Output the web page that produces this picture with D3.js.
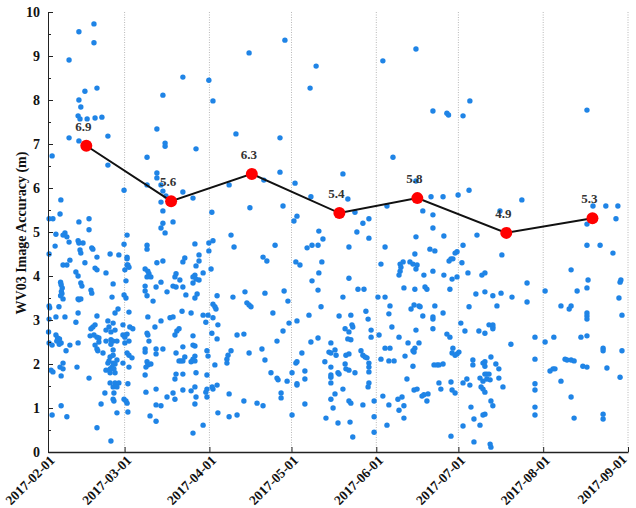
<!DOCTYPE html>
<head>
<meta charset="utf-8">
<script src="https://d3js.org/d3.v7.min.js"></script>
<style>
    body { margin: 0; background: #fff; }
    text { font-family: "Liberation Serif", "Times New Roman", serif; font-weight: bold; fill: #111; }
    .axis path, .axis line { stroke: #222; }
    .axis text { font-size: 14px; }
    .xaxis text { font-size: 13.5px; }
    .grid { stroke: #b8b8b8; stroke-width: 1; stroke-dasharray: 1,1.5; }
    .dot { fill: #1f84e6; }
    .mean-line { fill: none; stroke: #111; stroke-width: 2; }
    .mean-dot { fill: #ff0000; }
    .mean-label { font-size: 13px; fill: #333; }
</style>
</head>
<body>
<svg width="636" height="508"></svg>
<script>
// observations, [days since 2017-02-01, accuracy m], one list per month
var febObs = [[16.8,9.73],[11.3,9.55],[16.8,9.30],[7.7,8.91],[17.9,8.27],[13.5,8.2],[11.3,8.0],[12,7.84],[11,7.64],[11.7,7.57],[14.3,7.57],[17.2,7.59],[19.7,7.61],[21.9,7.18],[7.7,7.14],[11.3,7.07],[1.5,6.73],[21.9,6.52],[4.7,5.73],[4.4,5.41],[0.4,5.3],[1.8,5.3],[11.3,5.23],[15,5.3],[15,5.05],[2.9,4.95],[6.2,4.98],[5.5,4.93],[6.9,4.89],[2.6,4.68],[7.7,4.77],[11,4.8],[11.3,4.75],[12.8,4.75],[16,4.64],
  [0.4,4.5],[11.7,4.59],[12,4.52],[16.4,4.61],[17.9,4.43],[22.7,4.5],[25.9,4.48],[5.5,4.25],[6.9,4.25],[8,4.36],[13.5,4.3],[17.2,4.18],[17.9,4.14],[10.2,4.09],[11,4.0],[21.2,4.07],
  [4.6,3.86],[4.8,3.8],[5.2,3.73],[4.9,3.65],[5.1,3.6],[4.6,3.55],[5.5,3.48],[12,3.84],[12.4,3.77],[15.7,3.68],[16,3.61],[23.8,3.82],[11,3.48],[11.3,3.46],[12,3.48],[23.4,3.52],[4,3.3],[0.4,3.32],[0.6,3.28],[11,3.16],[25.6,3.25],[24.5,3.16],[6.2,3.07],[2.9,3.07],[0.4,3.02],[10.2,2.95],[17.9,3.09],[21.9,2.98],[23.8,2.93],[16.4,2.84],[17.2,2.89],[15.7,2.8],[22.3,2.84],[21.2,2.77],[23,2.73],[24.5,2.77],[0.2,2.73],
  [2.9,2.66],[3.5,2.59],[4.2,2.57],[3.2,2.52],[4.8,2.48],[4.1,2.45],[0.4,2.48],[1.5,2.43],[8,2.43],[11,2.48],[15.4,2.64],[16.8,2.66],[17.9,2.61],[18.6,2.59],[18.6,2.5],[21.2,2.52],[23,2.55],[23.8,2.52],[25.2,2.52],[23,2.45],[23.8,2.32],[17.2,2.43],[17.9,2.34],[18.2,2.3],[6.6,2.3],[20.1,2.25],[22.7,2.16],[23.8,2.2],[22.3,2.07],[5.5,2.02],[4.4,1.93],[5.5,1.89],[10.6,1.93],[1.1,1.86],[1.8,1.82],[21.9,2.02],[23.8,2.02],[24.5,2.0],[23.4,1.93],[21.2,1.86],[22.7,1.89],[24.1,1.89],[22.7,1.8],[24.5,1.8],[25.2,2.09],[4.8,1.73],[15,1.68],[22.7,1.57],[24.5,1.57],[25.9,1.57],[23.8,1.48],[25.2,1.48],[20.8,1.34],[24.1,1.34],[23.8,1.2],[24.1,1.16],[19.4,1.09],[4.8,1.05],[1.5,0.84],[6.9,0.8],[25.2,0.89],[17.9,0.55],[23,0.25],
  [27.8,4.72],[27.4,2.89],[27.4,2.66],[27.4,2.02],[27.8,1.2],[27.8,5.95],[27.8,3.57]];
var marObs = [[28.9,4.43],[28.9,4.39],[28.9,4.25],[29.2,4.25],[28.1,4.14],[29.6,4.2],[28.5,3.89],[28.5,3.5],[29.6,3.18],[29.9,2.84],[31,2.8],[28.9,2.68],[28.1,2.61],[28.1,2.48],[29.6,2.52],[28.9,2.25],[29.6,2.2],[30.7,2.14],[29.6,1.93],[29.2,1.55],[28.5,1.16],[28.9,1.11],[29.2,0.91],[28.9,4.93],
  [49.3,8.52],[58.8,8.45],[42,8.11],[39.8,7.34],[42.8,7.02],[42.8,6.95],[54.1,6.89],[36.2,6.7],[39.8,6.34],[39.8,6.23],[36.2,6.07],[41.3,6.07],[42,5.93],[43.1,5.82],[41.3,5.68],[42,5.48],[49.3,5.91],[53,5.77],[42,5.2],[41.3,5.09],[42.8,4.98],[45.7,5.23],[36.2,4.7],[53.7,4.73],[58.8,4.75],[36.2,4.61],[58.8,4.57],[39.8,4.3],[42,4.34],[49.3,4.32],[50,4.41],[55.2,4.48],[55.2,4.34],[54.1,4.23],[56.7,4.07],[35.5,4.16],[36.5,4.11],[36.9,4.05],[36.2,3.98],[37.6,3.98],[46.8,4.05],[46.4,3.98],[53.7,4.02],[53,3.98],[54.1,3.93],[55.2,3.91],[53,3.84],[48.2,3.91],[41.3,3.86],[35.5,3.77],[35.5,3.66],[36.2,3.55],[39.5,3.75],[45.7,3.77],[46.8,3.75],[49.3,3.75],[43.5,3.64],[50.4,3.57],[54.5,3.59],[53.7,3.5],[38.4,3.43],[36.5,3.07],[41.3,2.98],[44.6,3.05],[45.7,3.07],[49,3.2],[52.3,3.16],[56.7,3.11],[58.5,3.11],[57.7,2.95],[39.1,2.84],[47.9,2.8],[47.1,2.75],[46.4,2.66],[36.2,2.7],[36.5,2.66],[53,2.64],[36.9,2.52],[49.3,2.39],[53,2.43],[53.7,2.41],[35.5,2.34],[35.5,2.27],[39.5,2.34],[39.5,2.23],[42,2.34],[46.8,2.25],[58.1,2.3],[58.5,2.18],[50,2.16],[53.7,2.18],[53,2.11],[47.9,2.07],[48.6,2.07],[49.3,2.07],[52.3,2.05],[53.7,2.07],[36.2,2.05],[36.5,1.98],[35.8,1.93],[37.6,2.0],[35.5,1.75],[46.8,1.77],[49.3,1.77],[46.4,1.66],[54.1,1.8],[58.1,1.75],[39.5,1.43],[35.8,1.36],[49.3,1.41],[52.3,1.39],[53.7,1.48],[58.1,1.43],[57.7,1.36],[58.1,1.25],[54.1,1.25],[43.5,1.25],[45.7,1.34],[46.4,1.2],[39.5,1.07],[41.3,1.05],[53.7,1.09],[37.3,0.82],[39.5,0.7],[56.7,0.61],[53,0.43]];
var aprObs = [[60.3,7.98],[59.9,5.45],[86.6,9.36],[73.5,9.07],[68.7,7.23],[84.8,7.14],[84.8,6.36],[78.9,6.18],[66.2,6.07],[73.8,5.55],[85.9,5.59],[66.9,4.93],[60.3,4.8],[68,4.66],[83,4.7],[78.6,4.43],[80,4.34],[59.6,4.16],[72,3.64],[67.6,3.52],[79.3,3.61],[86.3,3.66],[87.7,3.43],[61.8,3.55],[60.3,3.36],[61,3.3],[61.4,3.25],[72.7,3.39],[73.5,3.34],[74.2,3.3],[82.2,3.16],[60.3,3.05],[62.1,2.89],[88.1,2.93],[59.9,2.7],[61.8,2.57],[69.1,2.66],[71.6,2.68],[85.9,2.75],[83.7,2.52],[66.9,2.3],[65.8,2.2],[65.4,2.11],[65.4,2.02],[73.5,2.25],[78.2,2.34],[79.3,2.09],[61,1.98],[81.5,1.8],[83.7,1.68],[84.1,1.64],[87.4,1.61],[60.3,1.43],[60,1.48],[61.8,1.52],[66.2,1.32],[71.6,1.16],[76.4,1.11],[78.6,1.05],[85.2,1.34],[85.2,1.23],[62.1,0.89],[66.2,0.8],[69.1,0.84]];
var mayObs = [[90.3,6.11],[91,5.36],[89.9,5.25],[90.6,4.32],[89.2,1.8],[91,1.55],[89.2,0.84],
  [98,8.77],[95.8,8.27],[107.8,6.32],[96.1,5.8],[109.6,5.75],[112.2,5.45],[117.3,5.3],[115.1,5.2],[99,5.02],[100.5,4.84],[112.9,5.0],[117.3,4.86],[96.5,4.7],[98.7,4.7],[94.7,4.64],[110,4.66],[92.1,4.25],[100.1,4.32],[99,4.07],[96.5,3.89],[110,3.95],[98.7,3.68],[113.3,3.7],[115.5,3.7],[107.8,3.52],[99.8,3.3],[116.2,3.2],[95.4,3.11],[110.7,3.11],[106.4,3.09],[91,2.98],[117,3.02],[108.6,2.8],[111.1,2.89],[111.4,2.84],[110,2.73],[109.6,2.57],[110.7,2.55],[118.1,2.77],[118.1,2.61],[98.7,2.59],[96.1,2.5],[103.4,2.48],[92.8,2.25],[102.7,2.27],[103.4,2.25],[104.9,2.32],[105.3,2.2],[108.9,2.2],[110,2.23],[114.4,2.3],[115.1,2.2],[115.9,2.16],[116.6,2.14],[90.6,2.02],[91,2.05],[101.2,2.05],[108.6,2.0],[108.9,1.89],[117.3,2.02],[117.3,1.93],[117.3,1.82],[103.4,1.93],[93.9,1.84],[93.9,1.66],[103.4,1.75],[103.4,1.7],[106,1.8],[106.4,1.77],[110,1.86],[112.2,1.8],[91,1.52],[103.4,1.57],[117.3,1.57],[117,1.48],[107.8,1.43],[104.9,1.32],[103.4,1.2],[104.2,1.0],[110,1.16],[110.7,1.11],[93.9,1.09],[115.1,1.07],[119.2,1.16],[101.6,0.77],[106,0.66],[110.4,0.68],[111.4,0.34],[119.2,0.8],[119.2,0.45]];
var junObs = [[134.5,9.16],[122.4,8.89],[140.7,7.75],[145.8,7.7],[146.4,7.66],[126.1,6.7],[134.5,6.16],[123.9,5.59],[140,5.8],[144.4,5.8],[149.9,5.84],[137,5.48],[140.7,5.39],[140.7,5.09],[144.7,4.91],[134.5,4.89],[123.2,4.66],[139.6,4.61],[121.7,4.27],[128.7,4.27],[129,4.2],[128.7,4.11],[128.3,4.02],[129.8,4.32],[132.3,4.32],[133.4,4.27],[134.5,4.16],[134.9,4.25],[134.1,4.5],[141.4,4.57],[149.5,4.55],[147.3,4.39],[146.6,4.34],[148,4.39],[137.4,4.02],[140.7,4.11],[144.7,4.02],[147.7,3.93],[149.5,3.98],[134.1,3.7],[137.8,3.75],[138.5,3.7],[130.1,3.73],[146.9,3.7],[120.6,3.52],[123.2,3.52],[125,3.32],[132.7,3.25],[133.8,3.34],[135.6,3.32],[136,3.3],[141.4,3.32],[137,3.09],[140.7,3.02],[140.7,3.07],[144.4,3.16],[124.6,3.14],[125.7,2.84],[121,2.66],[128.3,2.61],[134.5,2.77],[140.7,2.8],[145.8,2.68],[146.9,2.61],[131.6,2.48],[135.6,2.48],[123.2,2.36],[125,2.36],[134.1,2.36],[133.4,2.3],[133.8,2.27],[148,2.36],[147.7,2.25],[148.8,2.2],[149.5,2.23],[121.7,2.11],[124.6,2.07],[126.5,2.07],[130.5,2.18],[133.4,1.95],[141.1,1.98],[142.2,1.98],[142.9,1.98],[144.4,2.0],[131.2,1.66],[142.9,1.57],[147.3,1.59],[143.6,1.43],[147.7,1.41],[148.8,1.34],[133.8,1.41],[134.9,1.43],[136.7,1.27],[137.4,1.3],[138.5,1.16],[138.9,1.32],[122.4,1.27],[127.9,1.2],[129.4,1.25],[130.1,1.05],[124.6,1.07],[128.3,0.95],[130.1,0.77],[123.9,0.61],[147.3,0.36],[148.8,4.52]];
var julObs = [[154.2,7.98],[151.7,7.64],[153.9,5.95],[173.2,5.73],[156.8,4.93],[165.2,5.48],[151.7,4.7],[151.3,4.3],[165.9,4.48],[153.5,4.07],[158.6,4.02],[159.7,4.07],[175.1,3.84],[156.4,3.59],[159.7,3.64],[162.6,3.55],[165.6,3.61],[169.6,3.52],[175.1,3.41],[153.9,3.3],[164.1,3.32],[150.9,2.93],[161.2,2.89],[162.6,2.89],[162.6,2.84],[162.6,2.8],[152.4,2.75],[157.5,2.75],[159.7,2.7],[178,2.61],[150.2,2.27],[169.2,2.45],[178,2.11],[155.3,2.09],[155.3,1.98],[161.9,2.16],[159,2.02],[159.7,1.95],[159.7,2.05],[163.7,2.0],[164.8,1.89],[153.1,1.66],[151.7,1.57],[154.2,1.52],[157.9,1.68],[159.7,1.77],[160.4,1.77],[161.2,1.77],[160.4,1.66],[161.6,1.64],[159,1.61],[164.8,1.68],[166.3,1.48],[158.3,1.48],[159,1.43],[159.7,1.36],[178,1.55],[178,1.41],[161.9,1.16],[162.6,1.05],[154.6,1.02],[178,1.02],[178,0.84],[159.7,0.86],[159,0.84],[155.7,0.75],[157.9,0.61],[151.7,0.59],[155.7,0.23],[161.6,0.18],[161.9,0.11]];
var augObs = [[197,7.77],[199.2,5.59],[203.9,5.59],[208.3,5.59],[207.6,5.3],[197,5.18],[197,4.7],[201.8,4.7],[206.5,4.52],[191.2,4.14],[197.4,3.91],[209.1,3.86],[209.4,3.91],[193.4,3.66],[197,3.73],[181.7,3.66],[208.7,3.5],[187.5,3.32],[190.5,3.25],[191.2,3.32],[197,3.16],[197,3.09],[197,3.02],[209.8,3.11],[181.7,2.5],[184.9,2.61],[194.8,2.61],[197,2.64],[202.9,2.36],[202.9,2.3],[209.8,2.3],[189,2.11],[189.7,2.09],[191.2,2.09],[192.3,2.07],[195.5,1.95],[197,1.93],[183.5,1.84],[184.6,1.89],[185.3,1.89],[204.3,1.91],[209.1,1.7],[187.5,1.61],[191.2,1.25],[192.3,0.77],[202.9,0.86],[202.9,0.75]];

// monthly means
var meanDays   = [14, 45, 74.5, 106.5, 135, 167.5, 199];
var meanValues = [6.96, 5.70, 6.32, 5.43, 5.77, 4.98, 5.31];
var meanLabels = ["6.9", "5.6", "6.3", "5.4", "5.8", "4.9", "5.3"];

var monthTicks = ["2017-02-01","2017-03-01","2017-04-01","2017-05-01","2017-06-01","2017-07-01","2017-08-01","2017-09-01"];
var yTicks = [0,1,2,3,4,5,6,7,8,9,10];
var yTitle = "WV03  Image Accuracy (m)";

var svg = d3.select("svg");
var start = Date.UTC(2017, 1, 1);
function toDate(day) { return new Date(start + day * 864e5); }
var parse = d3.utcParse("%Y-%m-%d");

var x = d3.scaleUtc()
    .domain([parse(monthTicks[0]), parse(monthTicks[monthTicks.length - 1])])
    .range([48, 628]);
var y = d3.scaleLinear()
    .domain([0, 10])
    .range([452, 12]);

// dotted month gridlines
svg.append("g").selectAll("line")
    .data(monthTicks.slice(1))
    .enter().append("line")
    .attr("class", "grid")
    .attr("x1", function(d) { return x(parse(d)); })
    .attr("x2", function(d) { return x(parse(d)); })
    .attr("y1", y(10))
    .attr("y2", y(0));

// scatter
var allObs = febObs.concat(marObs, aprObs, mayObs, junObs, julObs, augObs);
svg.append("g").selectAll("circle")
    .data(allObs)
    .enter().append("circle")
    .attr("class", "dot")
    .attr("cx", function(d) { return x(toDate(d[0])); })
    .attr("cy", function(d) { return y(d[1]); })
    .attr("r", 2.7);

// mean line + red points
var means = meanDays.map(function(d, i) { return {date: toDate(d), v: meanValues[i], label: meanLabels[i]}; });
svg.append("path")
    .datum(means)
    .attr("class", "mean-line")
    .attr("d", d3.line().x(function(d) { return x(d.date); }).y(function(d) { return y(d.v); }));
svg.append("g").selectAll("circle")
    .data(means)
    .enter().append("circle")
    .attr("class", "mean-dot")
    .attr("cx", function(d) { return x(d.date); })
    .attr("cy", function(d) { return y(d.v); })
    .attr("r", 6);
svg.append("g").selectAll("text")
    .data(means)
    .enter().append("text")
    .attr("class", "mean-label")
    .attr("x", function(d) { return x(d.date) - 3; })
    .attr("y", function(d) { return y(d.v) - 15; })
    .attr("text-anchor", "middle")
    .text(function(d) { return d.label; });

// y axis with minor ticks
svg.append("g")
    .attr("class", "axis")
    .attr("transform", "translate(48,0)")
    .call(d3.axisLeft(y).tickValues(d3.range(0.5, 10, 1)).tickSize(-3).tickSizeOuter(0).tickFormat(""));
svg.append("g")
    .attr("class", "axis")
    .attr("transform", "translate(48,0)")
    .call(d3.axisLeft(y).tickValues(yTicks).tickSizeInner(-5).tickSizeOuter(0).tickPadding(8));

// x axis
var xAxis = svg.append("g")
    .attr("class", "axis xaxis")
    .attr("transform", "translate(0,452)")
    .call(d3.axisBottom(x).tickValues(monthTicks.map(parse)).tickSizeInner(-5).tickSizeOuter(0)
        .tickFormat(d3.utcFormat("%Y-%m-%d")));
xAxis.select(".domain").attr("stroke-width", 1.5);
xAxis.selectAll("text")
    .attr("text-anchor", "end")
    .attr("dy", 0)
    .attr("transform", function(d, i) {
        // last label pulled in a little so it stays inside the frame
        return i === monthTicks.length - 1 ? "translate(-3,6) rotate(-45)" : "translate(5,7) rotate(-45)";
    });

svg.append("text")
    .attr("transform", "translate(26,233) rotate(-90)")
    .attr("text-anchor", "middle")
    .style("font-size", "14px")
    .text(yTitle);
</script>
</body>
